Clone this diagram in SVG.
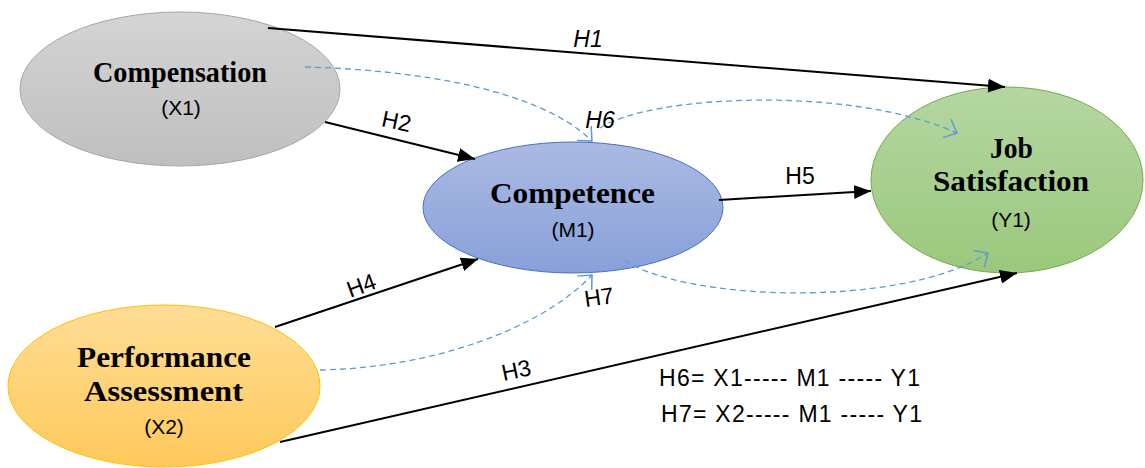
<svg xmlns="http://www.w3.org/2000/svg" width="1145" height="468" viewBox="0 0 1145 468">
<style>
.t{font-family:"Liberation Serif",serif;font-weight:bold;font-size:29px;fill:#000;text-anchor:middle}
.s{font-family:"Liberation Sans",Arial,sans-serif;font-size:21px;fill:#000;text-anchor:middle}
.h{font-family:"Liberation Sans",Arial,sans-serif;font-size:23px;fill:#000;text-anchor:middle}
.f{font-family:"Liberation Sans",Arial,sans-serif;font-size:23px;fill:#000}
.solid{stroke:#000;stroke-width:2;fill:none;marker-end:url(#ah)}
.dash{stroke:#5b9bd5;stroke-width:1.3;stroke-dasharray:6 4;fill:none;marker-end:url(#ov)}
</style>
<defs>
<marker id="ah" markerUnits="userSpaceOnUse" markerWidth="18" markerHeight="14" refX="17" refY="7" orient="auto"><path d="M0,0 L17,7 L0,14 z" fill="#000"/></marker>
<marker id="ov" markerUnits="userSpaceOnUse" markerWidth="20" markerHeight="22" refX="14" refY="11" orient="auto" overflow="visible"><path d="M3,1 L14,11 L3,21" fill="none" stroke="#5b9bd5" stroke-width="1.5"/></marker>
<linearGradient id="gGray" x1="0" y1="0" x2="0" y2="1"><stop offset="0" stop-color="#d4d4d4"/><stop offset="1" stop-color="#bfbfbf"/></linearGradient>
<linearGradient id="gBlue" x1="0" y1="0" x2="0" y2="1"><stop offset="0" stop-color="#abbae2"/><stop offset="1" stop-color="#88a0d9"/></linearGradient>
<linearGradient id="gGreen" x1="0" y1="0" x2="0" y2="1"><stop offset="0" stop-color="#b5d6a2"/><stop offset="1" stop-color="#9bc87c"/></linearGradient>
<linearGradient id="gGold" x1="0" y1="0" x2="0" y2="1"><stop offset="0" stop-color="#ffdd96"/><stop offset="1" stop-color="#ffc95a"/></linearGradient>
</defs>
<rect width="1145" height="468" fill="#fff"/>
<g id="node-compensation">
<ellipse cx="180" cy="89" rx="160" ry="77" fill="url(#gGray)" stroke="#a6a6a6" stroke-width="1"/>
<text class="t" x="180" y="82" textLength="174" lengthAdjust="spacingAndGlyphs">Compensation</text>
<text class="s" x="181" y="115">(X1)</text>
</g>
<g id="node-competence">
<ellipse cx="573" cy="207.5" rx="150" ry="65.5" fill="url(#gBlue)" stroke="#4472c4" stroke-width="1"/>
<text class="t" x="572.5" y="203" textLength="165" lengthAdjust="spacingAndGlyphs">Competence</text>
<text class="s" x="573" y="237">(M1)</text>
</g>
<g id="node-jobsatisfaction">
<ellipse cx="1007" cy="180" rx="136" ry="93" fill="url(#gGreen)" stroke="#70ad47" stroke-width="1"/>
<text class="t" x="1011.5" y="158" textLength="43" lengthAdjust="spacingAndGlyphs">Job</text>
<text class="t" x="1011" y="191" textLength="156" lengthAdjust="spacingAndGlyphs">Satisfaction</text>
<text class="s" x="1011" y="227">(Y1)</text>
</g>
<g id="node-performance">
<ellipse cx="164" cy="386" rx="156" ry="81" fill="url(#gGold)" stroke="#ffc000" stroke-width="1"/>
<text class="t" x="164" y="367" textLength="174" lengthAdjust="spacingAndGlyphs">Performance</text>
<text class="t" x="163.5" y="401" textLength="159" lengthAdjust="spacingAndGlyphs">Assessment</text>
<text class="s" x="164" y="434">(X2)</text>
</g>
<g id="connectors">
<line class="solid" x1="268" y1="28" x2="1005" y2="87"/>
<line class="solid" x1="325" y1="122" x2="475" y2="159"/>
<line class="solid" x1="719" y1="200" x2="871" y2="191"/>
<line class="solid" x1="275" y1="327" x2="478" y2="259"/>
<line class="solid" x1="280" y1="442" x2="1017" y2="273"/>
<path class="dash" d="M305,67 C420,70 540,90 592,141"/>
<path class="dash" d="M600,128 C650,95 850,85 957,133"/>
<path class="dash" d="M320,370 C430,368 540,330 592,275"/>
<path class="dash" d="M625,260 C680,300 900,310 988,253"/>
</g>
<g id="labels">
<text class="h" x="588" y="47" font-style="italic">H1</text>
<text class="h" transform="translate(395,129) rotate(12)">H2</text>
<text class="h" x="800" y="184">H5</text>
<text class="h" transform="translate(364,293) rotate(-20)">H4</text>
<text class="h" transform="translate(518,378) rotate(-12)">H3</text>
<text class="h" x="600" y="128" font-style="italic">H6</text>
<text class="h" transform="translate(600,305) rotate(-8)">H7</text>
<text class="f" x="659" y="386" textLength="261" lengthAdjust="spacing">H6= X1----- M1 ----- Y1</text>
<text class="f" x="661" y="422" textLength="261" lengthAdjust="spacing">H7= X2----- M1 ----- Y1</text>
</g>
</svg>
